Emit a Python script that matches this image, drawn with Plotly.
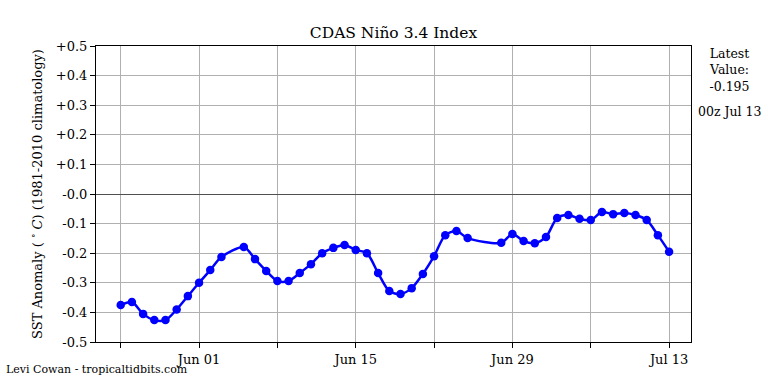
import plotly.graph_objects as go

dates = [
    "2024-05-25", "2024-05-26", "2024-05-27", "2024-05-28", "2024-05-29", "2024-05-30", "2024-05-31",
    "2024-06-01", "2024-06-02", "2024-06-03", "2024-06-05", "2024-06-06", "2024-06-07",
    "2024-06-08", "2024-06-09", "2024-06-10", "2024-06-11", "2024-06-12", "2024-06-13", "2024-06-14",
    "2024-06-15", "2024-06-16", "2024-06-17", "2024-06-18", "2024-06-19", "2024-06-20", "2024-06-21",
    "2024-06-22", "2024-06-23", "2024-06-24", "2024-06-25", "2024-06-28",
    "2024-06-29", "2024-06-30", "2024-07-01", "2024-07-02", "2024-07-03", "2024-07-04", "2024-07-05",
    "2024-07-06", "2024-07-07", "2024-07-08", "2024-07-09", "2024-07-10", "2024-07-11", "2024-07-12",
    "2024-07-13",
]
anomaly = [
    -0.375, -0.365, -0.405, -0.426, -0.426, -0.390, -0.345,
    -0.300, -0.257, -0.213, -0.179, -0.220, -0.260,
    -0.294, -0.294, -0.267, -0.237, -0.200, -0.182, -0.172,
    -0.189, -0.200, -0.267, -0.328, -0.338, -0.318, -0.270,
    -0.210, -0.139, -0.125, -0.149, -0.165,
    -0.135, -0.159, -0.166, -0.145, -0.081, -0.071, -0.084,
    -0.088, -0.061, -0.068, -0.064, -0.071, -0.088, -0.139,
    -0.195,
]

x_tick_vals = ["2024-05-25", "2024-06-01", "2024-06-08", "2024-06-15",
               "2024-06-22", "2024-06-29", "2024-07-06", "2024-07-13"]
x_tick_text = ["", "Jun 01", "", "Jun 15", "", "Jun 29", "", "Jul 13"]
y_tick_vals = [0.5, 0.4, 0.3, 0.2, 0.1, 0.0, -0.1, -0.2, -0.3, -0.4, -0.5]
y_tick_text = ["+0.5", "+0.4", "+0.3", "+0.2", "+0.1", "-0.0", "-0.1", "-0.2", "-0.3", "-0.4", "-0.5"]

FONT = "DejaVu Serif"

fig = go.Figure()
fig.add_trace(go.Scatter(
    x=dates, y=anomaly, mode="lines+markers",
    line=dict(color="#0000ff", width=2.5, shape="spline", smoothing=0.8),
    marker=dict(color="#0000ff", size=8.5),
    showlegend=False, hoverinfo="skip",
))

fig.update_layout(
    width=768, height=384,
    margin=dict(l=96, r=77, t=46, b=42),
    paper_bgcolor="white", plot_bgcolor="white",
    font=dict(family=FONT, size=13, color="black"),
    title=dict(text="CDAS Niño 3.4 Index", x=393.5 / 768, xanchor="center",
               y=1 - 33 / 384, yanchor="middle", font=dict(family=FONT, size=15.5)),
    xaxis=dict(
        type="date", range=["2024-05-22 19:00", "2024-07-14 23:00"],
        tickmode="array", tickvals=x_tick_vals, ticktext=x_tick_text,
        ticks="outside", ticklen=5, tickcolor="black",
        showgrid=True, gridcolor="#b0b0b0", gridwidth=1,
        showline=True, linecolor="black", linewidth=1, mirror=True,
        zeroline=False, automargin=False,
    ),
    yaxis=dict(
        range=[-0.5, 0.5],
        tickmode="array", tickvals=y_tick_vals, ticktext=y_tick_text,
        ticks="outside", ticklen=5, tickcolor="black",
        showgrid=True, gridcolor="#b0b0b0", gridwidth=1,
        showline=True, linecolor="black", linewidth=1, mirror=True,
        zeroline=True, zerolinecolor="#505050", zerolinewidth=1.3,
        automargin=False,
        title=dict(text="SST Anomaly ( <sup>∘</sup> <i>C</i>) (1981-2010 climatology)",
                   font=dict(family=FONT, size=13), standoff=10),
    ),
    annotations=[
        dict(text="Latest<br>Value:<br>-0.195", xref="paper", yref="paper",
             x=(729 - 96) / 595, y=1 + 2 / 296, xanchor="center", yanchor="top",
             showarrow=False, align="center", font=dict(family=FONT, size=12.5)),
        dict(text="00z Jul 13", xref="paper", yref="paper",
             x=(729.5 - 96) / 595, y=(342 - 111) / 296, xanchor="center", yanchor="middle",
             showarrow=False, font=dict(family=FONT, size=12.5)),
        dict(text="Levi Cowan - tropicaltidbits.com", xref="paper", yref="paper",
             x=-92 / 595, y=-(369 - 342) / 296, xanchor="left", yanchor="middle",
             showarrow=False, font=dict(family=FONT, size=11)),
    ],
)

fig.write_html(
    "out.html",
    config={"displayModeBar": False},
    post_script="document.body.style.margin='0';document.body.style.padding='0';",
)
